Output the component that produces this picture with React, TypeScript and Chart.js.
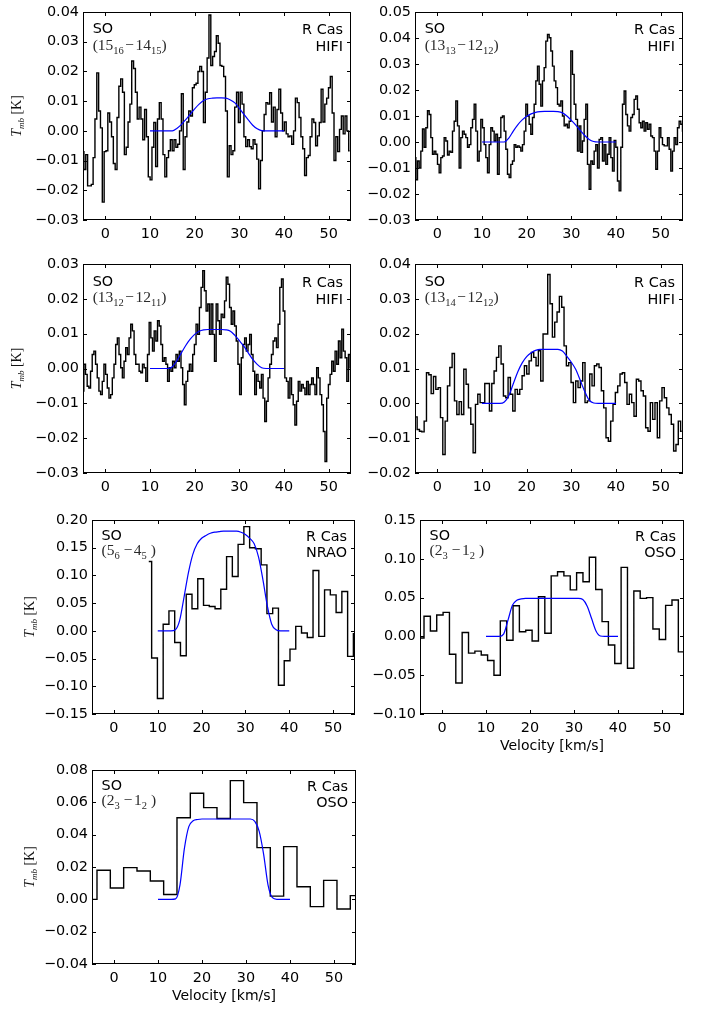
import React, { useEffect, useRef } from 'react';
import { Chart, registerables } from 'chart.js';

Chart.register(...registerables);

// ---------- data ----------
const X_TICKS = [0, 10, 20, 30, 40, 50];
const MODEL_V = [10, 11, 12, 13, 14, 15, 16, 17, 18, 19, 20, 21, 22, 23, 24, 25, 26, 27, 28, 29, 30, 31, 32, 33, 34, 35, 36, 37, 38, 39, 40];

// Panel 1: SO (15_16-14_15) HIFI
const P1_V0 = -5;
const P1_DV = 0.4117;
const P1_T = [-0.007, -0.013, -0.008, -0.0185, -0.0185, -0.018, -0.009, 0.004, 0.0195, 0.0067, 0.001, -0.024, -0.007, -0.0067, 0.006, 0.003, -0.002, -0.011, -0.013, 0.0045, 0.015, 0.0175, 0.013, -0.008, -0.0055, 0.003, 0.009, 0.0235, 0.021, 0.013, 0.004, 0.008, 0.004, -0.003, 0.0072, -0.002, -0.0155, -0.0165, -0.0055, 0.0028, -0.012, 0.004, 0.0095, 0.004, -0.008, -0.0155, -0.009, -0.0067, -0.003, -0.0067, -0.003, -0.0055, -0.0045, 0.0, 0.0125, -0.013, -0.002, 0.003, 0.0067, 0.005, 0.0145, 0.0155, 0.016, 0.020, 0.0217, 0.020, 0.0028, 0.013, 0.0245, 0.039, 0.022, 0.025, 0.0267, 0.032, 0.0295, 0.022, 0.0217, 0.0183, 0.0067, -0.0155, -0.005, -0.008, -0.0067, 0.008, 0.013, 0.0028, 0.013, 0.009, -0.002, -0.0053, -0.003, -0.0053, -0.006, -0.003, -0.0045, -0.0095, -0.0195, -0.01, 0.0, 0.0055, 0.0095, 0.009, 0.0128, 0.003, 0.008, -0.002, 0.0072, 0.014, 0.006, 0.0, 0.003, -0.001, -0.002, -0.0017, -0.0045, 0.0, 0.011, 0.0095, 0.0045, -0.002, -0.006, -0.015, -0.009, -0.0083, -0.002, 0.004, 0.0028, -0.005, -0.0017, 0.0028, 0.014, 0.003, 0.009, 0.011, 0.0145, 0.0183, 0.006, -0.010, -0.002, -0.007, 0.0005, 0.005, -0.001, 0.005, 0.0, -0.0067];
const P1_M = [0, 0, 0, 0, 0, 0, 0.0008, 0.0021, 0.0038, 0.0056, 0.0074, 0.0090, 0.0102, 0.0108, 0.0110, 0.0111, 0.0111, 0.0110, 0.0104, 0.0094, 0.0076, 0.0056, 0.0037, 0.0019, 0.0007, 0.0001, 0, 0, 0, 0, 0];
const P1_YT = [-0.03, -0.02, -0.01, 0, 0.01, 0.02, 0.03, 0.04];

// Panel 2: SO (13_13-12_12) HIFI
const P2_V0 = -5;
const P2_DV = 0.3731;
const P2_T = [-0.006, -0.0145, -0.0073, -0.01, -0.0035, 0.005, -0.002, 0.0055, 0.012, 0.0106,
  0.0017, -0.0047, -0.0035, -0.0047, -0.0086, -0.0118, -0.006, -0.0054, 0.0017, 0.0004,
  -0.005, -0.0035, -0.004, 0.0042, 0.008, 0.0158, 0.0062, -0.01, 0.0017, 0.0042,
  0.003, 0.0017, -0.002, -0.001, 0.0055, 0.0087, 0.0145, 0.0042, -0.0073, -0.0035,
  0.0087, 0.0055, -0.001, -0.006, -0.0118, -0.001, 0.0055, 0.0042, 0.0004, 0.003,
  -0.0124, 0.0017, 0.0094, 0.01, 0.0042, -0.0028, -0.0124, -0.0137, -0.0086, -0.0073,
  -0.001, -0.002, -0.0015, -0.002, -0.0035, -0.001, 0.0042, 0.0145, 0.01, 0.0068,
  0.003, 0.0094, 0.0145, 0.0235, 0.0292, 0.0222, 0.0138, 0.0235, 0.0286, 0.0388,
  0.0414, 0.0401, 0.035, 0.0292, 0.0235, 0.0209, 0.0145, 0.0138, 0.0158, 0.01,
  0.0062, 0.0068, 0.0055, 0.008, 0.035, 0.026, 0.0145, 0.0087, -0.0035, 0.0062,
  -0.004, 0.0004, 0.0087, 0.0145, -0.0086, -0.0182, -0.0073, -0.0086, -0.0035, -0.001,
  -0.01, 0.001, 0.0017, -0.0073, -0.001, -0.0086, -0.0047, 0.0017, -0.006, -0.0112,
  0.0006, -0.002, -0.015, -0.0188, -0.002, 0.0145, 0.0196, 0.0106, 0.0062, 0.0042,
  0.0094, 0.0106, 0.0164, 0.0177, 0.0126, 0.0074, 0.0055, 0.008, 0.0042, 0.0074,
  0.0049, 0.0068, 0.0023, 0.0017, -0.0035, -0.0105, -0.0035, 0.0055, 0.0017, -0.001,
  -0.0015, -0.0015, 0.0017, -0.0028, -0.0112, -0.0035, 0.0017, -0.001, 0.0055, 0.008,
  0.0068, 0.0042];
const P2_M = [0, 0, 0, 0, 0, 0, 0.0015, 0.0042, 0.0066, 0.0085, 0.0099, 0.0108, 0.0114, 0.0117, 0.0118, 0.0118, 0.0118, 0.0117, 0.0112, 0.0100, 0.0083, 0.0065, 0.0045, 0.0025, 0.0010, 0.0002, 0, 0, 0, 0, 0];
const P2_YT = [-0.03, -0.02, -0.01, 0, 0.01, 0.02, 0.03, 0.04, 0.05];

// Panel 3: SO (13_12-12_11) HIFI
const P3_V0 = -5;
const P3_DV = 0.375;
const P3_T = [-0.0065, 0.0012, -0.0017, -0.0051, -0.0056, -0.0008, 0.004, 0.005, 0.0012, -0.0027,
  -0.0065, -0.0075, -0.0037, 0.0012, -0.0017, -0.0056, -0.0085, -0.0075, -0.0027, 0.0012,
  0.0069, 0.0088, 0.004, 0.0002, -0.0027, 0.0021, 0.006, 0.004, 0.0088, 0.0127,
  0.0108, 0.004, 0.0012, 0.0012, -0.0008, -0.0012, 0.0012, 0.0002, -0.0037, 0.004,
  0.0132, 0.0088, 0.005, 0.0108, 0.0079, 0.0137, 0.0122, 0.0069, 0.0021, 0.0031,
  0.0012, -0.0037, 0.0002, -0.0008, 0.0021, 0.0002, 0.004, 0.0021, 0.005, 0.0002,
  -0.0046, -0.0104, -0.0037, -0.0008, 0.0012, -0.0008, 0.004, 0.0069, 0.0127, 0.0098,
  0.0175, 0.0233, 0.0281, 0.0223, 0.0165, 0.0185, 0.0098, 0.0185, 0.0098, 0.0021,
  0.0185, 0.0137, 0.0098, 0.0156, 0.0146, 0.0194, 0.0262, 0.0242, 0.0175, 0.0127,
  0.0165, 0.0122, 0.0079, 0.0012, -0.0075, 0.0031, 0.0069, 0.0088, 0.005, 0.0069,
  0.0098, 0.004, -0.0008, -0.0075, -0.0017, -0.0037, -0.0056, -0.0017, -0.0085, -0.0152,
  -0.0094, -0.0027, 0.0012, 0.004, 0.0079, 0.0088, 0.006, 0.0127, 0.0233, 0.0257,
  0.0165, -0.0027, -0.0037, -0.0085, -0.0027, -0.0075, -0.0104, -0.0162, -0.0094, -0.0037,
  -0.0065, -0.0046, -0.0056, -0.0075, -0.0037, -0.0075, -0.0046, -0.0027, -0.0046, -0.0075,
  0.0002, -0.0027, -0.0075, -0.0104, -0.0181, -0.0267, -0.0085, -0.0046, -0.0017, 0.0021,
  -0.0008, 0.005, 0.0012, 0.0079, 0.0031, 0.0113, 0.005, 0.0031, -0.0037, 0.004,
  0.0002];
const P3_M = [0, 0, 0, 0, 0, 0.0005, 0.0022, 0.0044, 0.0066, 0.0084, 0.0098, 0.0107, 0.0111, 0.0112, 0.0112, 0.0112, 0.0112, 0.0111, 0.0107, 0.0095, 0.0080, 0.0064, 0.0045, 0.0026, 0.0012, 0.0002, 0, 0, 0, 0, 0];
const P3_YT = [-0.03, -0.02, -0.01, 0, 0.01, 0.02, 0.03];

// Panel 4: SO (13_14-12_12) HIFI
const P4_V0 = -4.78;
const P4_DV = 0.522;
const P4_T = [-0.0039, -0.0075, -0.008, -0.0082, -0.0051, 0.0088, 0.0082, 0.0028, 0.0077, 0.004,
  0.0045, -0.0041, -0.0147, -0.0051, 0.005, 0.0103, 0.0143, 0.0007, -0.0032, 0.0005,
  -0.0032, 0.0098, 0.0055, -0.0013, -0.006, -0.0142, -0.0003, 0.0026, 0.0002, 0.0002,
  0.0057, 0.0057, -0.0022, 0.0057, 0.0093, 0.0132, 0.0165, 0.0113, 0.0021, 0.0016,
  0.0074, 0.0026, -0.0022, 0.004, 0.0026, 0.004, 0.0079, 0.0108, 0.0084, 0.0122,
  0.0146, 0.0132, 0.0108, 0.0151, 0.0064, 0.0199, 0.0199,
  0.037, 0.0286, 0.019, 0.0233, 0.0262, 0.0307, 0.0276, 0.0165, 0.0108, 0.0117,
  0.006, 0.0002, 0.0064, 0.0045, 0.0064, 0.0117, 0.0002, 0.0007, 0.0084, 0.005,
  0.0108, 0.0113, 0.0103, 0.0036, -0.0013, -0.0099, -0.0109, -0.0051, -0.0003, 0.0031,
  0.005, 0.0084, 0.0088, 0.006, -0.0003, 0.0026, 0.0002, -0.0037, 0.0069, 0.0064,
  0.0036, 0.0021, -0.007, -0.008, 0.0002, -0.0046, 0.0002, -0.0099, 0.0007, 0.0045,
  0.0016, -0.0013, -0.0032, -0.006, -0.0137, -0.0118, -0.0051, -0.008];
const P4_M = [0, 0, 0, 0, 0, 0.0004, 0.0022, 0.0056, 0.0090, 0.0116, 0.0134, 0.0145, 0.0152, 0.0155, 0.0155, 0.0155, 0.0155, 0.0155, 0.0150, 0.0135, 0.0118, 0.0097, 0.0066, 0.0034, 0.0009, 0.0001, 0, 0, 0, 0, 0];
const P4_YT = [-0.02, -0.01, 0, 0.01, 0.02, 0.03, 0.04];

// Panel 5: SO (5_6-4_5) NRAO
const P5_V0 = 7.95;
const P5_DV = 1.315;
const P5_T = [0.125, -0.049, -0.122, 0.012, 0.036, -0.021, -0.045, 0.066, 0.040, 0.094, 0.046, 0.044, 0.040, 0.075, 0.134, 0.098, 0.156, 0.188, 0.150, 0.148, 0.119, 0.031, 0.041, -0.098, -0.054, -0.033, 0.008, -0.004, -0.012, 0.109, -0.010, 0.074, 0.065, 0.033, 0.071, -0.046, -0.005];
const P5_M = [0, 0, 0, 0, 0.002, 0.019, 0.061, 0.105, 0.138, 0.157, 0.167, 0.172, 0.176, 0.178, 0.179, 0.180, 0.180, 0.180, 0.180, 0.178, 0.174, 0.167, 0.157, 0.133, 0.092, 0.045, 0.012, 0.002, 0, 0, 0];
const P5_YT = [-0.15, -0.10, -0.05, 0, 0.05, 0.10, 0.15, 0.20];

// Panel 6: SO (2_3-1_2) OSO
const P6_V0 = -6.255;
const P6_DV = 1.445;
const P6_T = [-0.002, -0.002, 0.026, 0.007, 0.0275, 0.031, -0.023, -0.060, 0.005, -0.0215, -0.019, -0.024, -0.031, -0.050, 0.020, -0.005, 0.0395, 0.006, 0.008, -0.006, 0.051, 0.004, 0.078, 0.0833, 0.078, 0.060, 0.082, 0.0705, 0.102, 0.0605, 0.019, -0.011, -0.035, 0.089, -0.041, 0.0585, 0.049, 0.050, 0.0095, -0.004, 0.040, 0.047, -0.020, -0.022];
const P6_M = [0, 0, 0, 0, 0.003, 0.021, 0.040, 0.0465, 0.0483, 0.049, 0.049, 0.049, 0.049, 0.049, 0.049, 0.049, 0.049, 0.049, 0.049, 0.049, 0.049, 0.049, 0.0475, 0.039, 0.023, 0.007, 0.0005, 0, 0, 0, 0];
const P6_YT = [-0.10, -0.05, 0, 0.05, 0.10, 0.15];

// Panel 7: SO (2_3-1_2) OSO
const P7_V0 = -5.38;
const P7_DV = 3.03;
const P7_T = [0.0, 0.018, 0.007, 0.0196, 0.0175, 0.0113, 0.003, 0.0505, 0.0656, 0.0567, 0.050, 0.0734, 0.0598, 0.032, 0.002, 0.0326, 0.0078, -0.0045, 0.0117, -0.006, 0.0023];
const P7_M = [0, 0, 0, 0, 0.0003, 0.009, 0.0315, 0.045, 0.0486, 0.0494, 0.0497, 0.0497, 0.0497, 0.0497, 0.0497, 0.0497, 0.0497, 0.0497, 0.0497, 0.0497, 0.0497, 0.0497, 0.0482, 0.042, 0.028, 0.009, 0.001, 0, 0, 0, 0];
const P7_YT = [-0.04, -0.02, 0, 0.02, 0.04, 0.06, 0.08];

// ---------- layout ----------
const PAD_L = 83;
const PAD_T = 14;
const PAD_R = 12;
const PAD_B = 46;
const SANS = '"DejaVu Sans"';
const SERIF = '"Liberation Serif"';
const TICK_FONT = 14.4;

type Panel = {
  box: [number, number, number, number];
  v0: number; dv: number; t: number[]; m: number[]; yt: number[];
  trans: string[]; spaced: boolean; tel: string;
  yLabelX: number | null; xTitle: boolean;
};

const PANELS: Panel[] = [
  { box: [83, 12, 268, 208], v0: P1_V0, dv: P1_DV, t: P1_T, m: P1_M, yt: P1_YT, trans: ['15', '16', '14', '15'], spaced: false, tel: 'HIFI', yLabelX: 16.5, xTitle: false },
  { box: [415, 12, 268, 208], v0: P2_V0, dv: P2_DV, t: P2_T, m: P2_M, yt: P2_YT, trans: ['13', '13', '12', '12'], spaced: false, tel: 'HIFI', yLabelX: null, xTitle: false },
  { box: [83, 264, 268, 209], v0: P3_V0, dv: P3_DV, t: P3_T, m: P3_M, yt: P3_YT, trans: ['13', '12', '12', '11'], spaced: false, tel: 'HIFI', yLabelX: 16.5, xTitle: false },
  { box: [415, 264, 268, 209], v0: P4_V0, dv: P4_DV, t: P4_T, m: P4_M, yt: P4_YT, trans: ['13', '14', '12', '12'], spaced: false, tel: 'HIFI', yLabelX: null, xTitle: false },
  { box: [92, 520, 263, 194], v0: P5_V0, dv: P5_DV, t: P5_T, m: P5_M, yt: P5_YT, trans: ['5', '6', '4', '5'], spaced: true, tel: 'NRAO', yLabelX: 29, xTitle: false },
  { box: [420, 520, 264, 194], v0: P6_V0, dv: P6_DV, t: P6_T, m: P6_M, yt: P6_YT, trans: ['2', '3', '1', '2'], spaced: true, tel: 'OSO', yLabelX: null, xTitle: true },
  { box: [92, 770, 264, 194], v0: P7_V0, dv: P7_DV, t: P7_T, m: P7_M, yt: P7_YT, trans: ['2', '3', '1', '2'], spaced: true, tel: 'OSO', yLabelX: 29, xTitle: true },
];

function fmtY(v: number): string {
  if (Math.abs(v) < 1e-9) return '0.00';
  const s = Math.abs(v).toFixed(2);
  return v < 0 ? '\u2212' + s : s;
}

function makePlugin(p: Panel) {
  return {
    id: 'decor',
    afterDraw(chart: any) {
      const ctx = chart.ctx as CanvasRenderingContext2D;
      const a = chart.chartArea;
      const xs = chart.scales.x;
      const ys = chart.scales.y;
      const w = a.right - a.left;
      const h = a.bottom - a.top;
      ctx.save();
      // frame
      ctx.strokeStyle = '#000';
      ctx.lineWidth = 1;
      ctx.strokeRect(a.left + 0.5, a.top + 0.5, w - 1, h - 1);
      // inward ticks on all four sides
      ctx.beginPath();
      const TL = 4;
      X_TICKS.forEach((v) => {
        const px = Math.round(xs.getPixelForValue(v)) + 0.5;
        ctx.moveTo(px, a.bottom);
        ctx.lineTo(px, a.bottom - TL);
        ctx.moveTo(px, a.top);
        ctx.lineTo(px, a.top + TL);
      });
      p.yt.forEach((v) => {
        const py = Math.round(ys.getPixelForValue(v)) + 0.5;
        ctx.moveTo(a.left, py);
        ctx.lineTo(a.left + TL, py);
        ctx.moveTo(a.right, py);
        ctx.lineTo(a.right - TL, py);
      });
      ctx.stroke();

      // annotations
      ctx.fillStyle = '#000';
      ctx.textBaseline = 'alphabetic';
      ctx.font = `${TICK_FONT}px ${SANS}`;
      ctx.textAlign = 'left';
      ctx.fillText('SO', a.left + 0.036 * w, a.top + 0.103 * h);
      ctx.textAlign = 'right';
      ctx.fillText('R Cas', a.right - 8, a.top + 0.108 * h);
      ctx.fillText(p.tel, a.right - 8, a.top + 0.189 * h);

      // transition label with subscripts
      ctx.textAlign = 'left';
      ctx.fillStyle = '#2a2a2a';
      const big = `15.5px ${SERIF}`;
      const small = `10.5px ${SERIF}`;
      let cx = a.left + 0.036 * w;
      const by = a.top + 0.181 * h;
      const seg = (s: string, font: string, dy: number) => {
        ctx.font = font;
        ctx.fillText(s, cx, by + dy);
        cx += ctx.measureText(s).width;
      };
      seg('(' + p.trans[0], big, 0);
      seg(p.trans[1], small, 4);
      cx += p.spaced ? 4 : 1.5;
      seg('\u2212', big, 0);
      cx += 1.5;
      seg(p.trans[2], big, 0);
      seg(p.trans[3], small, 4);
      if (p.spaced) cx += 4;
      seg(')', big, 0);

      // y-axis label
      if (p.yLabelX !== null) {
        const canvasLeft = p.box[0] - PAD_L;
        const lx = p.yLabelX - canvasLeft;
        const ly = (a.top + a.bottom) / 2;
        ctx.save();
        ctx.translate(lx, ly);
        ctx.rotate(-Math.PI / 2);
        ctx.fillStyle = '#111';
        const fT = `italic 14px ${SERIF}`;
        const fS = `italic 9px ${SERIF}`;
        const fK = `14px ${SERIF}`;
        ctx.font = fT; const wT = ctx.measureText('T').width;
        ctx.font = fS; const wS = ctx.measureText('mb').width;
        ctx.font = fK; const wK = ctx.measureText(' [K]').width;
        let x0 = -(wT + wS + wK) / 2;
        ctx.textAlign = 'left';
        ctx.font = fT; ctx.fillText('T', x0, 4.5); x0 += wT;
        ctx.font = fS; ctx.fillText('mb', x0, 7.5); x0 += wS;
        ctx.font = fK; ctx.fillText(' [K]', x0, 4.5);
        ctx.restore();
      }

      // x-axis title
      if (p.xTitle) {
        ctx.fillStyle = '#000';
        ctx.font = `14px ${SANS}`;
        ctx.textAlign = 'center';
        ctx.fillText('Velocity [km/s]', (a.left + a.right) / 2, a.bottom + 36);
      }
      ctx.restore();
    },
  };
}

function makeConfig(p: Panel): any {
  const spectrum = p.t.map((y, i) => ({ x: p.v0 + i * p.dv, y }));
  const model = p.m.map((y, i) => ({ x: MODEL_V[i], y }));
  const tickFont = { family: SANS, size: TICK_FONT };
  return {
    type: 'line',
    data: {
      datasets: [
        {
          data: model,
          borderColor: '#0000ff',
          borderWidth: 1.2,
          pointRadius: 0,
          fill: false,
          cubicInterpolationMode: 'monotone',
          clip: 0,
          order: 0,
        },
        {
          data: spectrum,
          borderColor: '#000000',
          borderWidth: 1.4,
          pointRadius: 0,
          fill: false,
          stepped: 'middle',
          clip: 0,
          order: 1,
        },
      ],
    },
    options: {
      animation: false,
      responsive: false,
      maintainAspectRatio: false,
      events: [],
      layout: { padding: { left: 0, top: PAD_T, right: PAD_R, bottom: 0 } },
      plugins: { legend: { display: false }, tooltip: { enabled: false }, title: { display: false } },
      scales: {
        x: {
          type: 'linear',
          min: -5,
          max: 55,
          afterBuildTicks: (s: any) => { s.ticks = X_TICKS.map((v) => ({ value: v })); },
          afterFit: (s: any) => { s.height = PAD_B; },
          grid: { display: false, drawTicks: false },
          border: { display: false },
          ticks: { font: tickFont, color: '#000', padding: 6, maxRotation: 0, autoSkip: false, callback: (v: any) => String(v) },
        },
        y: {
          type: 'linear',
          min: p.yt[0],
          max: p.yt[p.yt.length - 1],
          afterBuildTicks: (s: any) => { s.ticks = p.yt.map((v) => ({ value: v })); },
          afterFit: (s: any) => { s.width = PAD_L; },
          grid: { display: false, drawTicks: false },
          border: { display: false },
          ticks: { font: tickFont, color: '#000', padding: 4, autoSkip: false, callback: (v: any) => fmtY(Number(v)) },
        },
      },
    },
    plugins: [makePlugin(p)],
  };
}

function PanelChart({ p }: { p: Panel }) {
  const ref = useRef<HTMLCanvasElement | null>(null);
  const W = PAD_L + p.box[2] + PAD_R;
  const H = PAD_T + p.box[3] + PAD_B;
  useEffect(() => {
    if (!ref.current) return;
    const chart = new Chart(ref.current, makeConfig(p));
    return () => chart.destroy();
  }, [p]);
  return (
    <canvas
      ref={ref}
      width={W}
      height={H}
      style={{ position: 'absolute', left: p.box[0] - PAD_L, top: p.box[1] - PAD_T, width: W, height: H, display: 'block' }}
    />
  );
}

export default function App() {
  return (
    <div style={{ position: 'absolute', left: 0, top: 0, width: 708, height: 1010, background: '#fff', overflow: 'hidden' }}>
      {PANELS.map((p, i) => (
        <PanelChart key={i} p={p} />
      ))}
    </div>
  );
}
